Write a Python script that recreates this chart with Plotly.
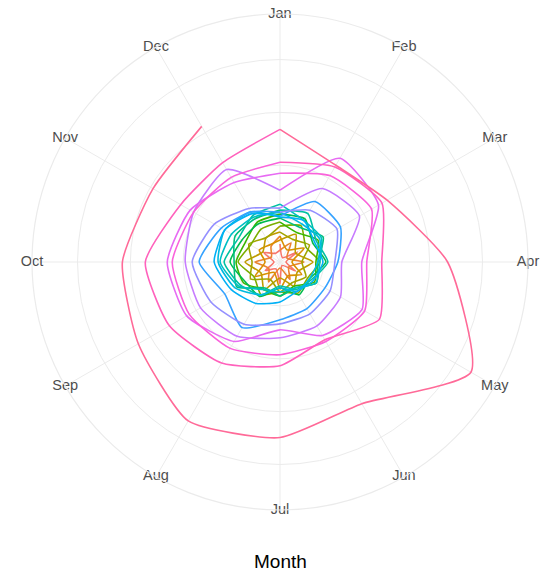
import math
import plotly.graph_objects as go

# Month labels around the dial (Jan at the top, running clockwise)
months = ["Jan", "Feb", "Mar", "Apr", "May", "Jun",
          "Jul", "Aug", "Sep", "Oct", "Nov", "Dec"]

# One monthly profile per year, earliest first
y00 = [18, 5, 20, 6, 18, 4, 22, 8, 17, 6, 19, 10]
y01 = [12, 22, 8, 24, 10, 20, 6, 23, 13, 25, 10, 18]
y02 = [26, 14, 28, 12, 25, 16, 27, 12, 29, 15, 24, 20]
y03 = [22, 32, 18, 33, 20, 28, 16, 32, 22, 35, 20, 28]
y04 = [30, 26, 34, 22, 30, 24, 30, 20, 34, 28, 36, 28]
y05 = [36, 42, 30, 40, 32, 36, 30, 38, 30, 42, 34, 38]
y06 = [40, 34, 44, 36, 40, 28, 34, 32, 42, 44, 40, 46]
y07 = [48, 50, 38, 46, 34, 38, 26, 40, 40, 50, 44, 44]
y08 = [44, 40, 50, 38, 42, 30, 34, 30, 50, 46, 52, 50]
y09 = [52, 56, 42, 48, 36, 32, 24, 38, 46, 56, 48, 54]
y10 = [58, 48, 48, 40, 42, 30, 30, 32, 48, 60, 56, 52]
y11 = [50, 44, 46, 38, 34, 34, 26, 38, 52, 62, 64, 58]
y12 = [45, 48, 40, 43, 38, 34, 40, 48, 56, 66, 64, 56]
y13 = [46, 70, 70, 58, 52, 54, 58, 76, 64, 81, 68, 58]
y14 = [50, 60, 66, 55, 58, 60, 62, 72, 80, 88, 76, 62]
y15 = [54, 85, 92, 62, 70, 74, 76, 86, 92, 95, 100, 107]
y16 = [72, 120, 114, 82, 95, 85, 68, 92, 108, 113, 104, 92]
y17 = [89, 100, 106, 87, 98, 92, 93, 100, 105, 108, 100, 98]
y18 = [100, 110, 118, 102, 115, 90, 104, 117, 128, 135, 115, 115]
y19 = [133, 112, 124, 168, 221, 164, 176, 184, 164, 158, 147, 157]

series = [y00, y01, y02, y03, y04, y05, y06, y07, y08, y09,
          y10, y11, y12, y13, y14, y15, y16, y17, y18, y19]

radial_breaks = [44, 97, 150, 203]


def hcl_hex(h, c=100.0, l=65.0):
    """Polar-LUV colour to sRGB hex (same space as R's hcl())."""
    hr = math.radians(h)
    u, v = c * math.cos(hr), c * math.sin(hr)
    xn, yn, zn = 95.047, 100.0, 108.883
    un = 4 * xn / (xn + 15 * yn + 3 * zn)
    vn = 9 * yn / (xn + 15 * yn + 3 * zn)
    Y = yn * ((l + 16) / 116) ** 3 if l > 8 else yn * l / 903.3
    up = u / (13 * l) + un
    vp = v / (13 * l) + vn
    X = Y * 9 * up / (4 * vp)
    Z = Y * (12 - 3 * up - 20 * vp) / (4 * vp)
    X, Y, Z = X / 100, Y / 100, Z / 100
    rgb_lin = [3.2406 * X - 1.5372 * Y - 0.4986 * Z,
               -0.9689 * X + 1.8758 * Y + 0.0415 * Z,
               0.0557 * X - 0.2040 * Y + 1.0570 * Z]
    out = []
    for ch in rgb_lin:
        ch = min(max(ch, 0.0), 1.0)
        ch = 1.055 * ch ** (1 / 2.4) - 0.055 if ch > 0.0031308 else 12.92 * ch
        out.append(int(round(ch * 255)))
    return "#{:02X}{:02X}{:02X}".format(*out)


n = len(series)
colors = [hcl_hex(15 + 360 * i / n) for i in range(n)]

month_theta = [30 * i for i in range(12)]
r_outer = max(max(s) for s in series) * 0.45 / 0.4

fig = go.Figure()

for i, vals in enumerate(series):
    r = list(vals)
    theta = list(month_theta)
    # each year runs on into the following January
    if i + 1 < n:
        r.append(series[i + 1][0])
        theta.append(360)
    fig.add_trace(go.Scatterpolar(
        r=r, theta=theta, mode="lines",
        line=dict(color=colors[i], width=1.6, shape="spline", smoothing=0.55),
        showlegend=False, hoverinfo="skip",
    ))

# Month names sit on the outer ring
fig.add_trace(go.Scatterpolar(
    r=[r_outer] * 12, theta=month_theta, mode="text", text=months,
    textposition="middle center",
    textfont=dict(family="Liberation Sans, Arial, sans-serif", size=14.5, color="#4D4D4D"),
    cliponaxis=False, showlegend=False, hoverinfo="skip",
))

W, H = 547, 574
cx, cy, R = 280, 262, 248

fig.update_layout(
    width=W, height=H,
    margin=dict(l=0, r=0, t=0, b=0),
    paper_bgcolor="white",
    polar=dict(
        domain=dict(x=[(cx - R) / W, (cx + R) / W],
                    y=[1 - (cy + R) / H, 1 - (cy - R) / H]),
        bgcolor="white",
        radialaxis=dict(range=[0, r_outer], tickmode="array", tickvals=radial_breaks,
                        showticklabels=False, ticks="", showline=False,
                        gridcolor="#EBEBEB", gridwidth=1.2),
        angularaxis=dict(rotation=90, direction="clockwise", thetaunit="degrees",
                         tickmode="array", tickvals=month_theta,
                         showticklabels=False, ticks="",
                         showline=True, linecolor="#EBEBEB", linewidth=1.2,
                         gridcolor="#EBEBEB", gridwidth=1.2),
    ),
    annotations=[dict(text="Month", x=cx / W, y=1 - 561 / H, xref="paper", yref="paper",
                      xanchor="center", yanchor="middle", showarrow=False,
                      font=dict(family="Liberation Sans, Arial, sans-serif", size=19, color="black"))],
)

fig.write_html("out.html")
